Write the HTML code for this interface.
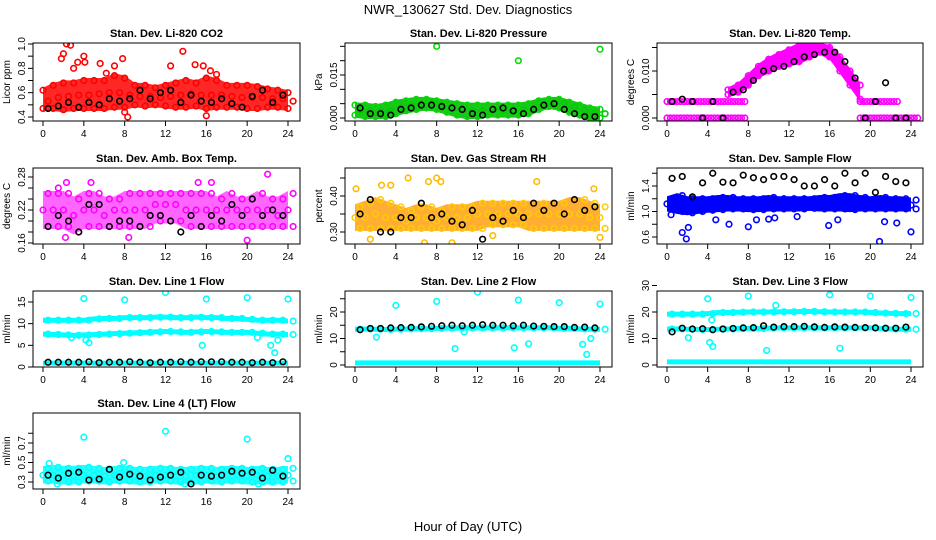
<!DOCTYPE html>
<html><head><meta charset="utf-8"><style>
body{margin:0;background:#fff}
svg{display:block;font-family:"Liberation Sans",sans-serif}
</style></head><body>
<svg id="c" width="936" height="540" viewBox="0 0 936 540">
<text x="468" y="14" text-anchor="middle" font-size="13">NWR_130627  Std. Dev. Diagnostics</text>
<text x="468" y="531" text-anchor="middle" font-size="13">Hour of Day (UTC)</text>
</svg>
<script>
// ---- data (hourly values, hour = index) ----
const xTicks = [0,4,8,12,16,20,24];
const co2Hi = [0.62,0.66,0.68,0.68,0.70,0.70,0.70,0.74,0.72,0.66,0.66,0.64,0.66,0.68,0.70,0.68,0.72,0.70,0.66,0.66,0.66,0.65,0.63,0.62,0.60];
const co2Mid = [0.53,0.56,0.57,0.58,0.58,0.59,0.60,0.60,0.58,0.57,0.57,0.56,0.57,0.58,0.59,0.58,0.58,0.58,0.57,0.56,0.56,0.56,0.55,0.55,0.53];
const co2Lo = [0.47,0.47,0.46,0.47,0.47,0.47,0.47,0.48,0.48,0.50,0.49,0.50,0.49,0.48,0.48,0.49,0.47,0.48,0.48,0.48,0.47,0.47,0.48,0.48,0.47];
const co2OutH = [1.8,2.0,2.3,2.7,3.0,3.4,4.0,4.1,5.6,6.2,7.0,7.8,8.0,8.3,12.5,13.7,14.9,15.7,16.0,16.4,17.0,24.0];
const co2OutV = [0.88,0.92,1.0,0.99,0.80,0.85,0.90,0.85,0.84,0.76,0.82,0.88,0.44,0.40,0.82,0.94,0.83,0.82,0.41,0.78,0.75,0.34];
const co2Black = [0.47,0.49,0.52,0.48,0.52,0.50,0.55,0.53,0.55,0.62,0.55,0.60,0.62,0.52,0.58,0.53,0.52,0.55,0.51,0.48,0.57,0.62,0.52,0.58];

const presHi = [4.5,4.5,4.0,4.5,5.5,6.0,6.5,6.5,6.0,5.5,5.0,4.5,4.5,4.5,4.5,4.5,4.5,5.0,6.0,6.5,6.5,5.5,4.5,3.5,3.0];
const presMid = [2.8,2.5,2.3,2.5,3.5,4.3,4.8,5.0,4.5,3.8,3.0,2.5,2.5,2.8,2.8,2.8,2.8,3.3,4.5,5.3,5.0,3.8,2.8,1.8,1.5];
const presLo = [1.0,0.5,0.5,0.5,1.5,2.5,3.0,3.5,3.0,2.0,1.0,0.5,0.5,1.0,1.0,1.0,1.0,1.5,3.0,4.0,3.5,2.0,1.0,0.0,0.0];
const presOutH = [8,16,24];
const presOutV = [25,20,24];
const presBlack = [3.5,1.5,1.5,1.0,3.0,3.5,4.5,4.5,4.0,3.5,3.0,1.5,1.0,3.0,3.5,2.5,1.5,3.0,4.5,5.0,3.0,1.5,0.5,0.5];

const tempHi = [null,null,null,null,null,null,6,7,9,11,12.5,13.5,14.5,15.5,16,15.5,15,13,10,7,null,null,null,null,null];
const tempLo = [null,null,null,null,null,null,5,5.5,7,9,10,11,11.5,12,13,14,13,10,7,4,null,null,null,null,null];
const tempLvl = [3.5,3.5,3.5,3.5,3.5,3.5,3.5,3.5,null,null,null,null,null,null,null,null,null,null,null,3.5,3.5,3.5,3.5,null,null];
const tempZero = [0,0,0,0,0,0,0,0,null,null,null,null,null,null,null,null,null,null,null,0,0,0,0,0,0];
const tempBlack = [3.5,4,3.5,0,3.5,0,5.5,6,8,10,10.5,11,12,13,13.5,14,14,12,8.5,0,3.5,7.5,0,0];

const ambHi = [0.25,0.25,0.25,0.24,0.25,0.25,0.24,0.24,0.25,0.25,0.25,0.25,0.25,0.25,0.25,0.25,0.25,0.24,0.25,0.24,0.24,0.25,0.24,0.24,0.25];
const ambMid = [0.22,0.22,0.22,0.21,0.22,0.22,0.21,0.22,0.22,0.22,0.22,0.23,0.23,0.23,0.22,0.22,0.22,0.22,0.22,0.22,0.22,0.22,0.22,0.21,0.22];
const ambLo = [0.19,0.19,0.19,0.18,0.19,0.19,0.19,0.19,0.19,0.19,0.19,0.20,0.20,0.20,0.19,0.19,0.19,0.19,0.19,0.19,0.19,0.19,0.19,0.19,0.19];
const ambOutH = [2.3,4.7,8.4,15.2,22,20,2.2,16.5,1.5];
const ambOutV = [0.27,0.27,0.17,0.27,0.285,0.165,0.17,0.27,0.26];
const ambBlack = [0.19,0.21,0.20,0.18,0.23,0.23,0.19,0.20,0.20,0.19,0.21,0.21,0.20,0.18,0.21,0.19,0.21,0.20,0.23,0.21,0.24,0.21,0.22,0.21];

const rhHi = [0.37,0.38,0.39,0.38,0.37,0.36,0.37,0.37,0.36,0.37,0.37,0.37,0.38,0.38,0.38,0.38,0.38,0.38,0.38,0.38,0.38,0.39,0.39,0.38,0.37];
const rhMid = [0.34,0.34,0.35,0.34,0.34,0.33,0.34,0.34,0.33,0.34,0.34,0.34,0.35,0.35,0.35,0.35,0.35,0.35,0.35,0.35,0.35,0.35,0.35,0.34,0.34];
const rhLo = [0.31,0.31,0.31,0.31,0.31,0.31,0.31,0.31,0.31,0.31,0.31,0.31,0.31,0.32,0.32,0.32,0.32,0.31,0.31,0.31,0.31,0.31,0.31,0.31,0.31];
const rhOutH = [0.1,1.5,2.6,3.5,5.2,8,8.4,6.8,13.5,17.8,23.4,24,7.2,9.5];
const rhOutV = [0.42,0.28,0.43,0.43,0.45,0.45,0.44,0.27,0.29,0.44,0.42,0.285,0.44,0.27];
const rhBlack = [0.35,0.39,0.30,0.30,0.34,0.34,0.38,0.34,0.35,0.33,0.32,0.36,0.28,0.34,0.33,0.36,0.34,0.38,0.36,0.38,0.35,0.39,0.36,0.37];

const flowHi = [1.2,1.25,1.2,1.2,1.2,1.22,1.22,1.2,1.2,1.2,1.22,1.2,1.2,1.2,1.2,1.22,1.22,1.25,1.25,1.22,1.2,1.22,1.2,1.2,1.18];
const flowMid = [1.12,1.12,1.1,1.1,1.12,1.12,1.12,1.12,1.12,1.12,1.12,1.12,1.12,1.12,1.12,1.12,1.12,1.14,1.14,1.12,1.12,1.12,1.12,1.1,1.1];
const flowLo = [1.04,1.0,0.98,1.0,1.02,1.03,1.04,1.04,1.03,1.03,1.04,1.04,1.04,1.04,1.05,1.04,1.04,1.04,1.03,1.04,1.04,1.04,1.04,1.04,1.04];
const flowOutH = [0.4,1.5,1.9,2.1,4.8,6.1,8.0,8.8,10.0,10.6,12.8,15.9,16.8,20.9,21.4,22.6,24];
const flowOutV = [0.95,0.67,0.57,0.75,0.87,0.8,0.76,0.87,0.88,0.9,0.92,0.78,0.87,0.53,0.84,0.82,0.68];
const flowBlack = [1.52,1.55,1.23,1.45,1.6,1.46,1.45,1.57,1.53,1.5,1.55,1.55,1.5,1.4,1.4,1.5,1.4,1.6,1.45,1.6,1.3,1.55,1.47,1.45];

const l1Top = [10.8,10.8,10.8,10.8,10.8,11.1,11.2,11.2,11.4,11.4,11.4,11.5,11.5,11.4,11.4,11.5,11.4,11.4,11.2,11.2,11.0,10.8,10.8,10.8,10.6];
const l1Mid = [7.6,7.5,7.4,7.3,7.4,7.5,7.6,7.7,7.8,7.9,8.0,8.1,8.2,8.1,8.0,8.1,8.2,8.1,8.0,8.0,8.0,7.8,7.6,7.6,7.5];
const l1Low = [0.9,0.9,0.9,0.9,0.9,0.9,0.9,0.9,0.9,0.9,0.9,0.9,0.9,0.9,0.9,0.9,0.9,0.9,0.9,0.9,0.9,0.9,0.9,0.9,0.9];
const l1OutH = [4,8,12,16,20,24,4.2,4.5,2.8,15.6,21,22.3,22.7,23];
const l1OutV = [15.8,15.5,17.2,15.7,16,15.7,6.2,5.6,6.8,5,6.8,5,3.3,6.2];
const l1Black = [1.1,1.1,1.1,1.1,1.2,1.0,1.1,1.1,1.2,1.1,1.0,1.1,1.1,1.2,1.1,1.2,1.2,1.2,1.1,1.1,1.0,1.1,1.0,1.2];

const l2Top = [13.5,13.6,13.5,13.4,13.5,13.6,13.7,13.7,13.8,13.9,13.9,14.0,14.0,14.0,14.0,14.0,14.0,14.0,14.0,14.0,13.8,13.8,13.6,13.5,13.5];
const l2Low = [0.8,0.8,0.8,0.8,0.8,0.8,0.8,0.8,0.8,0.8,0.8,0.8,0.8,0.8,0.8,0.8,0.8,0.8,0.8,0.8,0.8,0.8,0.8,0.8,0.8];
const l2OutH = [4,8,12,16,20,24,9.8,15.6,17,22.3,22.7,23.1,2.1,10.7];
const l2OutV = [22.5,24,27.5,24.5,23.5,23,6.2,6.5,8,7.8,4,10,10.5,12.5];
const l2Black = [13.3,13.8,13.8,14.0,14.1,14.2,14.4,14.6,14.8,15.0,14.8,15.0,15.2,15.0,15.0,14.8,15.0,14.7,14.6,14.5,14.5,14.2,14.3,14.0];

const l3Top = [19.2,19.2,19.2,19.2,19.4,19.8,19.8,19.9,20.0,20.0,20.0,20.1,20.1,20.2,20.2,20.1,20.0,20.0,20.0,20.0,19.8,19.6,19.5,19.4,19.4];
const l3Mid = [13.6,13.6,13.5,13.4,13.4,13.5,13.6,13.8,13.8,13.8,13.9,14.0,14.0,14.0,14.0,14.0,14.0,14.0,14.0,14.0,14.0,13.8,13.6,13.5,13.5];
const l3Low = [1.2,1.2,1.2,1.2,1.2,1.2,1.2,1.2,1.2,1.2,1.2,1.2,1.2,1.2,1.2,1.2,1.2,1.2,1.2,1.2,1.2,1.2,1.2,1.2,1.2];
const l3OutH = [4,8,12,16,20,24,4.2,4.5,9.8,17,2.1,10.7,4.4];
const l3OutV = [25,26,31,26.5,26,25.5,8.5,7,5.5,6.3,10.3,22.5,17];
const l3Black = [12.5,13.9,13.6,13.7,13.3,13.6,13.8,14.0,14.1,14.8,14.3,14.5,14.5,14.6,14.4,14.2,14.4,14.3,14.2,14.1,14.0,13.9,13.9,14.3];

const l4Hi = [0.44,0.45,0.44,0.44,0.45,0.44,0.43,0.44,0.44,0.43,0.43,0.44,0.44,0.43,0.43,0.44,0.44,0.43,0.44,0.44,0.43,0.44,0.43,0.43,0.44];
const l4Mid = [0.37,0.37,0.37,0.36,0.37,0.37,0.36,0.37,0.37,0.36,0.36,0.37,0.37,0.36,0.36,0.37,0.37,0.36,0.37,0.37,0.36,0.37,0.36,0.36,0.37];
const l4Lo = [0.31,0.31,0.30,0.30,0.31,0.31,0.30,0.31,0.31,0.30,0.30,0.31,0.31,0.30,0.30,0.30,0.31,0.30,0.31,0.31,0.30,0.30,0.30,0.30,0.31];
const l4OutH = [4,12,20,24,0.6,7.9,1.4,13.9,21.1];
const l4OutV = [0.76,0.82,0.74,0.54,0.49,0.5,0.28,0.28,0.28];
const l4Black = [0.37,0.34,0.39,0.40,0.32,0.33,0.43,0.35,0.38,0.36,0.32,0.35,0.37,0.40,0.28,0.37,0.36,0.37,0.41,0.39,0.40,0.34,0.42,0.36];

// ---- layout ----
const colL=[33,345,657], colR=[300,612,923];
const rowT=[43,168,291,413], rowB=[121,244,367,489];
const NS='http://www.w3.org/2000/svg';
const svg=document.getElementById('c');
function mk(tag,attrs,parent){const e=document.createElementNS(NS,tag);for(const k in attrs)e.setAttribute(k,attrs[k]);(parent||svg).appendChild(e);return e;}

function panel(p){
  const L=colL[p.col],R=colR[p.col],T=rowT[p.row],B=rowB[p.row];
  const x0=L+10,x24=R-12;
  const xs=h=>x0+(x24-x0)*h/24;
  const ys=v=>p.py1+(p.py2-p.py1)*(v-p.v1)/(p.v2-p.v1);
  const g=mk('g',{});
  
  
  const clip=mk('clipPath',{id:'cl'+p.name},g);
  mk('rect',{x:L,y:T,width:R-L,height:B-T},clip);
  const plot=mk('g',{'clip-path':'url(#cl'+p.name+')'},g);
  (p.bands||[]).forEach(b=>{
    const hi=b.hi,lo=b.lo;let pts=[],back=[];
    hi.forEach((v,i)=>{if(v!=null&&lo[i]!=null){pts.push(xs(i)+','+(ys(v)-2.5));back.unshift(xs(i)+','+(ys(lo[i])+2.5));}});
    const poly=mk('polygon',{points:pts.concat(back).join(' '),fill:b.fill,'fill-opacity':b.op||1},plot);
    
    
  });
  (p.pts||[]).forEach(s=>{
    s.v.forEach((v,i)=>{
      if(v==null)return;
      const h=s.h?s.h[i]:(s.off||0)+i*(s.step||1);
      const c=mk('circle',{cx:xs(h),cy:ys(v),r:2.8,fill:'none',stroke:s.c,'stroke-width':1.6},plot);
      
      
    });
  });
  const box=mk('rect',{x:L,y:T,width:R-L,height:B-T,fill:'none',stroke:'#000','stroke-width':1},g);
  
  
  xTicks.forEach(t=>{
    mk('line',{x1:xs(t),x2:xs(t),y1:B,y2:B+5,stroke:'#000'},g);
    const tx=mk('text',{x:xs(t),y:B+16,'font-size':10,'text-anchor':'middle'},g);
    tx.textContent=t;
    
    
  });
  mk('line',{x1:xs(0),x2:xs(24),y1:B,y2:B,stroke:'#000'},g);
  p.ticks.forEach((t,i)=>{
    const y=ys(t);
    mk('line',{x1:L-5,x2:L,y1:y,y2:y,stroke:'#000'},g);
    if(p.labels[i]){
      const tx=mk('text',{x:0,y:0,'font-size':10,'text-anchor':'middle',transform:`translate(${L-8},${y}) rotate(-90)`},g);
      tx.textContent=p.labels[i];
      
      
    }
  });
  const yl=mk('text',{x:0,y:0,'font-size':10,'text-anchor':'middle',transform:`translate(${L-23},${(T+B)/2}) rotate(-90)`},g);
  yl.textContent=p.ylab;
  
  
  const ti=mk('text',{x:(L+R)/2,y:T-6,'font-size':11,'font-weight':'bold','text-anchor':'middle'},g);
  ti.textContent=p.title;
  
  
}

panel({name:'co2-panel',col:0,row:0,title:'Stan. Dev. Li-820 CO2',ylab:'Licor ppm',v1:0.4,py1:117,v2:1.0,py2:44,
  ticks:[0.4,0.5,0.6,0.7,0.8,0.9,1.0],labels:['0.4','','0.6','','0.8','','1.0'],
  bands:[{hi:co2Hi,lo:co2Lo,fill:'#ff0000',op:0.85}],
  pts:[{v:co2Hi,c:'#ff0000'},{v:co2Mid,c:'#ff0000',off:0.5},{v:co2Lo,c:'#ff0000'},{h:co2OutH,v:co2OutV,c:'#ff0000'},{v:co2Black,c:'#000',off:0.5,k:'black-point'}]});
panel({name:'pressure-panel',col:1,row:0,title:'Stan. Dev. Li-820 Pressure',ylab:'kPa',v1:0,py1:118,v2:15,py2:75,
  ticks:[0,5,10,15,20,25],labels:['0.000','','','0.015','',''],
  bands:[{hi:presHi,lo:presLo,fill:'#1fc01f'}],
  pts:[{v:presHi,c:'#00dd00'},{v:presMid,c:'#00cc00',off:0.5},{v:presLo,c:'#00dd00'},{h:presOutH,v:presOutV,c:'#00dd00'},{v:presBlack,c:'#000',off:0.5,k:'black-point'}]});
panel({name:'temp-panel',col:2,row:0,title:'Stan. Dev. Li-820 Temp.',ylab:'degrees C',v1:0,py1:118,v2:10,py2:71,
  ticks:[0,5,10,15],labels:['0.000','','0.010',''],
  bands:[{hi:tempHi,lo:tempLo,fill:'#ff00ff'}],
  pts:[{v:tempHi,c:'#ff00ff'},{v:tempLo,c:'#ff00ff'},{v:tempLvl,c:'#ff00ff',step:1},{v:tempLvl,c:'#ff00ff',off:0.33},{v:tempLvl,c:'#ff00ff',off:0.66},{v:tempZero,c:'#ff00ff'},{v:tempZero,c:'#ff00ff',off:0.33},{v:tempZero,c:'#ff00ff',off:0.66},{v:tempBlack,c:'#000',off:0.5,k:'black-point'}]});
panel({name:'amb-temp-panel',col:0,row:1,title:'Stan. Dev. Amb. Box Temp.',ylab:'degrees C',v1:0.16,py1:243,v2:0.28,py2:177,
  ticks:[0.16,0.18,0.20,0.22,0.24,0.26,0.28],labels:['0.16','','','0.22','','','0.28'],
  bands:[{hi:ambHi,lo:ambLo,fill:'#ff00ff',op:0.6}],
  pts:[{v:ambHi,c:'#ff00ff',off:0.5},{v:ambMid,c:'#ff00ff'},{v:ambLo,c:'#ff00ff',off:0.5},{h:ambOutH,v:ambOutV,c:'#ff00ff'},{v:ambBlack,c:'#000',off:0.5,k:'black-point'}]});
panel({name:'rh-panel',col:1,row:1,title:'Stan. Dev. Gas Stream RH',ylab:'percent',v1:0.30,py1:232,v2:0.40,py2:196,
  ticks:[0.30,0.35,0.40,0.45],labels:['0.30','','0.40',''],
  bands:[{hi:rhHi,lo:rhLo,fill:'#ff9a00',op:0.8}],
  pts:[{v:rhHi,c:'#ffcc00',off:0.5},{v:rhMid,c:'#ffcc00'},{v:rhLo,c:'#ffcc00',off:0.5},{h:rhOutH,v:rhOutV,c:'#ffbb00'},{v:rhBlack,c:'#000',off:0.5,k:'black-point'}]});
panel({name:'sample-flow-panel',col:2,row:1,title:'Stan. Dev. Sample Flow',ylab:'ml/min',v1:0.6,py1:237,v2:1.4,py2:186,
  ticks:[0.6,0.8,1.0,1.2,1.4,1.6],labels:['0.6','','1.0','','1.4',''],
  bands:[{hi:flowHi,lo:flowLo,fill:'#0000ff'}],
  pts:[{v:flowHi,c:'#0000ff',off:0.5},{v:flowMid,c:'#0000ff'},{v:flowLo,c:'#0000ff',off:0.5},{h:flowOutH,v:flowOutV,c:'#0000ff'},{v:flowBlack,c:'#000',off:0.5,k:'black-point'}]});
panel({name:'line1-panel',col:0,row:2,title:'Stan. Dev. Line 1 Flow',ylab:'ml/min',v1:0,py1:367,v2:15,py2:302,
  ticks:[0,5,10,15],labels:['0','5','10','15'],
  bands:[{hi:l1Top,lo:l1Top,fill:'#00ffff'},{hi:l1Mid,lo:l1Mid,fill:'#00ffff'},{hi:l1Low,lo:l1Low,fill:'#00ffff'}],
  pts:[{v:l1Top,c:'#00ffff',off:0.5},{v:l1Mid,c:'#00ffff',off:0.5},{h:l1OutH,v:l1OutV,c:'#00ffff'},{v:l1Black,c:'#000',off:0.5,k:'black-point'}]});
panel({name:'line2-panel',col:1,row:2,title:'Stan. Dev. Line 2 Flow',ylab:'ml/min',v1:0,py1:365,v2:20,py2:312,
  ticks:[0,5,10,15,20,25],labels:['0','','10','','20',''],
  bands:[{hi:l2Top,lo:l2Top,fill:'#00ffff'},{hi:l2Low,lo:l2Low,fill:'#00ffff'}],
  pts:[{v:l2Top,c:'#00ffff',off:0.5},{h:l2OutH,v:l2OutV,c:'#00ffff'},{v:l2Black,c:'#000',off:0.5,k:'black-point'}]});
panel({name:'line3-panel',col:2,row:2,title:'Stan. Dev. Line 3 Flow',ylab:'ml/min',v1:0,py1:365,v2:20,py2:312,
  ticks:[0,10,20,30],labels:['0','10','20','30'],
  bands:[{hi:l3Top,lo:l3Top,fill:'#00ffff'},{hi:l3Mid,lo:l3Mid,fill:'#00ffff'},{hi:l3Low,lo:l3Low,fill:'#00ffff'}],
  pts:[{v:l3Top,c:'#00ffff',off:0.5},{v:l3Mid,c:'#00ffff',off:0.5},{h:l3OutH,v:l3OutV,c:'#00ffff'},{v:l3Black,c:'#000',off:0.5,k:'black-point'}]});
panel({name:'line4-panel',col:0,row:3,title:'Stan. Dev. Line 4 (LT) Flow',ylab:'ml/min',v1:0.3,py1:482,v2:0.7,py2:443,
  ticks:[0.3,0.4,0.5,0.6,0.7,0.8],labels:['0.3','','0.5','','0.7',''],
  bands:[{hi:l4Hi,lo:l4Lo,fill:'#00ffff',op:0.85}],
  pts:[{v:l4Hi,c:'#00ffff',off:0.5},{v:l4Mid,c:'#00ffff'},{v:l4Lo,c:'#00ffff',off:0.5},{h:l4OutH,v:l4OutV,c:'#00ffff'},{v:l4Black,c:'#000',off:0.5,k:'black-point'}]});
</script>
</body></html>
